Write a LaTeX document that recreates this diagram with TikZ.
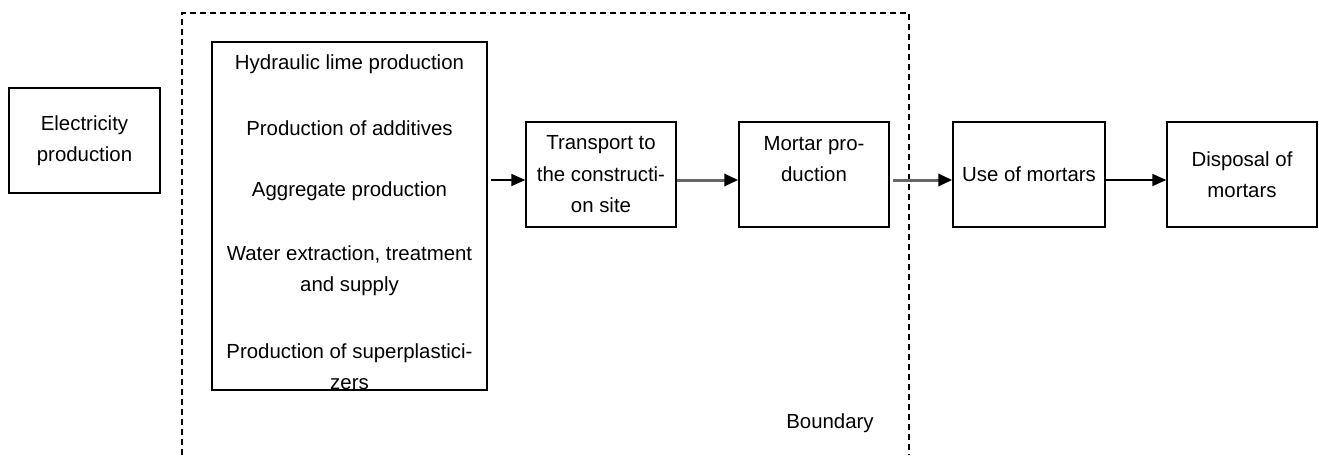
\documentclass[tikz,border=0pt]{standalone}
\usepackage{fontspec}
\setmainfont{Liberation Sans}
\usetikzlibrary{arrows.meta,calc}
\begin{document}
\begin{tikzpicture}[x=1pt,y=-1pt,
  txt/.style={inner sep=0pt,align=center,font=\fontsize{20.4}{31.5}\selectfont},
  box/.style={txt,draw,line width=1.4pt},
  arr/.style={line width=1.8pt,-{Triangle[length=14pt,width=12pt,color=black,fill=black]}},
  garr/.style={arr,draw=black!60,line width=3pt},
  bound/.style={line width=1.3pt,dash pattern=on 6pt off 4pt}]
\useasboundingbox (0,0) rectangle (1319,455);
% boundary
\coordinate (bl) at (182,455);
\coordinate (tl) at (182,13);
\coordinate (tr) at (909,13);
\coordinate (br) at (909,455);
\draw[bound] (bl) -- (tl) -- (tr) -- (br);
\node[txt] (blabel) at (830,423) {Boundary};
% nodes
\node[box,minimum width=151pt,minimum height=105pt] (elec) at (84.5,140.5) {Electricity\\production};
\node[box,minimum width=275pt,minimum height=348pt] (big) at (349.5,216) {};
\node[txt] (t1) at (349.5,64) {Hydraulic lime production};
\node[txt] (t2) at (349.5,128) {Production of additives};
\node[txt] (t3) at (349.5,191) {Aggregate production};
\node[txt] (t4) at (349.5,270.5) {Water extraction, treatment\\and supply};
\node[txt] (t5) at (349.5,366.5) {Production of superplastici-\\zers};
\node[box,minimum width=150pt,minimum height=105pt] (trans) at (601,174.5) {Transport to\\the constructi-\\on site};
\node[box,minimum width=150pt,minimum height=105pt] (mortar) at (814,174.5) {Mortar pro-\\duction\\~};
\node[box,minimum width=152pt,minimum height=105pt] (use) at (1029,174.5) {Use of mortars};
\node[box,minimum width=150pt,minimum height=105pt] (disp) at (1242,174.5) {Disposal of\\mortars};
% arrows
\coordinate (ay) at (0,180);
\draw[arr] ($(big.east |- ay)+(3,0)$) -- (trans.west |- ay);
\draw[garr] (trans.east |- ay) -- (mortar.west |- ay);
\draw[garr] ($(mortar.east |- ay)+(3,0)$) -- (use.west |- ay);
\draw[arr] (use.east |- ay) -- (disp.west |- ay);
\end{tikzpicture}
\end{document}
